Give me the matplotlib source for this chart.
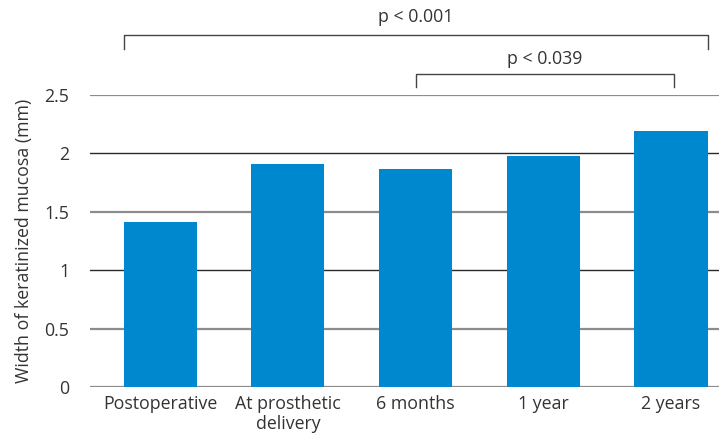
import matplotlib
matplotlib.use("Agg")
import matplotlib.pyplot as plt
import numpy as np

categories = ["Postoperative", "At prosthetic\ndelivery", "6 months", "1 year", "2 years"]
values = [1.41, 1.91, 1.87, 1.98, 2.19]
yticks = [0, 0.5, 1, 1.5, 2, 2.5]
ytick_labels = ["0", "0.5", "1", "1.5", "2", "2.5"]
ylabel = "Width of keratinized mucosa (mm)"
brackets = [("p < 0.001", 0, 4), ("p < 0.039", 2, 4)]

plt.rcParams['font.family'] = ['Open Sans', 'DejaVu Sans']
text_color = "#333333"
fs = 12.8

fig = plt.figure(figsize=(7.19, 4.36), dpi=100)
ax = fig.add_axes([0.1252, 0.1124, 0.8748, 0.6697])

x = np.arange(len(categories))
bw = 0.572
ax.bar(x, values, width=bw, color="#0088cf", zorder=3)

for t in yticks:
    dark = (t == 1 or t == 2)
    ax.axhline(t, color="#2a2a2a" if dark else "#8c8c8c",
               lw=1.0 if dark else 1.6, zorder=1)

ax.set_xlim(-0.55, 4.376)
ax.set_ylim(0, 2.5)
ax.set_yticks(yticks)
ax.set_yticklabels(ytick_labels)
ax.set_xticks(x)
ax.set_xticklabels(categories, linespacing=1.1)
ax.tick_params(axis='both', length=0, labelsize=fs, colors=text_color)
ax.tick_params(axis='y', pad=15)
ax.tick_params(axis='x', pad=6)
for s in ax.spines.values():
    s.set_visible(False)
ax.set_ylabel(ylabel, fontsize=fs, color=text_color, labelpad=8)

# significance brackets
lab0, a0, b0 = brackets[0]
xl, xr = x[a0] - bw / 2, x[b0] + bw / 2
ax.plot([xl, xl, xr, xr], [2.89, 3.01, 3.01, 2.89], color="#444444", lw=1.0, clip_on=False)
ax.text((xl + xr) / 2, 3.17, lab0, ha="center", va="center", fontsize=fs, color=text_color)

lab1, a1, b1 = brackets[1]
xl, xr = x[a1], x[b1] + 0.02
ax.plot([xl, xl, xr, xr], [2.57, 2.68, 2.68, 2.57], color="#444444", lw=1.0, clip_on=False)
ax.text((xl + xr) / 2, 2.81, lab1, ha="center", va="center", fontsize=fs, color=text_color)

fig.savefig("out.png", dpi=100)
